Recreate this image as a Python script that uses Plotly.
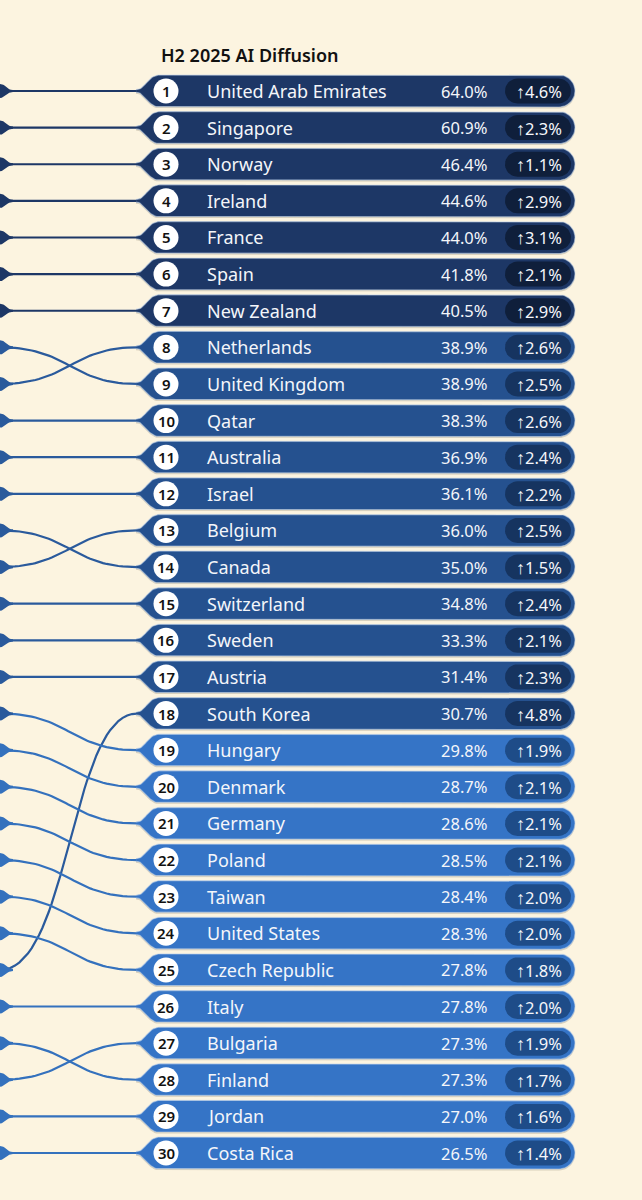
import plotly.graph_objects as go
import numpy as np

# data
countries = ["United Arab Emirates", "Singapore", "Norway", "Ireland", "France", "Spain",
             "New Zealand", "Netherlands", "United Kingdom", "Qatar", "Australia", "Israel",
             "Belgium", "Canada", "Switzerland", "Sweden", "Austria", "South Korea", "Hungary",
             "Denmark", "Germany", "Poland", "Taiwan", "United States", "Czech Republic",
             "Italy", "Bulgaria", "Finland", "Jordan", "Costa Rica"]
share = [64.0, 60.9, 46.4, 44.6, 44.0, 41.8, 40.5, 38.9, 38.9, 38.3, 36.9, 36.1, 36.0, 35.0,
         34.8, 33.3, 31.4, 30.7, 29.8, 28.7, 28.6, 28.5, 28.4, 28.3, 27.8, 27.8, 27.3, 27.3,
         27.0, 26.5]
change = [4.6, 2.3, 1.1, 2.9, 3.1, 2.1, 2.9, 2.6, 2.5, 2.6, 2.4, 2.2, 2.5, 1.5, 2.4, 2.1,
          2.3, 4.8, 1.9, 2.1, 2.1, 2.1, 2.0, 2.0, 1.8, 2.0, 1.9, 1.7, 1.6, 1.4]
prev_rank = [1, 2, 3, 4, 5, 6, 7, 9, 8, 10, 11, 12, 14, 13, 15, 16, 17, 25, 18, 19, 20, 21,
             22, 23, 24, 26, 28, 27, 29, 30]
title = "H2 2025 AI Diffusion"

rank = list(range(1, len(countries) + 1))

BG = "#fcf4e0"
ROW_PX = 36.62
FONT = "Noto Sans"


def tier(r):
    if r <= 7:
        return 0
    if r <= 18:
        return 1
    return 2


bar_col = ["#1d3766", "#25518f", "#3574c6"]
pill_col = ["#0f1f3b", "#163460", "#1e4c88"]
line_col = ["#1d3766", "#2a5a9c", "#3471bd"]


def bez(p0, p1, p2, p3, n=20):
    t = np.linspace(0, 1, n)[:, None]
    p = (1 - t) ** 3 * np.array(p0) + 3 * (1 - t) ** 2 * t * np.array(p1) \
        + 3 * (1 - t) * t ** 2 * np.array(p2) + t ** 3 * np.array(p3)
    return p


def bar_outline(x0, x1, h):
    # flared left tip, straight body, round right end (pixel offsets)
    pts = [bez((x0, -1.3), (x0 + 10, -1.3), (x0 + 11, -h), (x0 + 24, -h))]
    cx = x1 - h
    a = np.linspace(-np.pi / 2, np.pi / 2, 25)
    pts.append(np.c_[cx + h * np.cos(a), h * np.sin(a)])
    pts.append(bez((x0 + 24, h), (x0 + 11, h), (x0 + 10, 1.3), (x0, 1.3)))
    return np.vstack(pts)


def pill(x0, x1, h):
    a = np.linspace(-np.pi / 2, np.pi / 2, 20)
    right = np.c_[x1 - h + h * np.cos(a), h * np.sin(a)]
    left = np.c_[x0 + h - h * np.cos(a), -h * np.sin(a)]
    return np.vstack([right, left])


fig = go.Figure()

# connector lines from previous ranking
for r, pr in zip(rank, prev_rank):
    c = line_col[tier(r)]
    curve = bez((0, pr), (70, pr), (70, r), (137, r), 40)
    fig.add_trace(go.Scatter(x=curve[:, 0], y=curve[:, 1], mode="lines",
                             line=dict(color=c, width=2.2), hoverinfo="skip"))
    tip = np.vstack([bez((0, -7), (6, -7), (6, -1.1), (13, -1.1), 10),
                     bez((13, 1.1), (6, 1.1), (6, 7), (0, 7), 10)])
    fig.add_trace(go.Scatter(x=tip[:, 0], y=pr + tip[:, 1] / ROW_PX, mode="lines",
                             fill="toself", fillcolor=line_col[tier(pr)],
                             line=dict(width=0), hoverinfo="skip"))

# bars and change pills
for r in rank:
    t = tier(r)
    shp = bar_outline(136, 575, 16)
    fig.add_trace(go.Scatter(x=shp[:, 0], y=r + (shp[:, 1] + 1.5) / ROW_PX, mode="lines",
                             fill="toself", fillcolor="rgba(60,50,30,0.18)",
                             line=dict(width=0), hoverinfo="skip"))
    fig.add_trace(go.Scatter(x=shp[:, 0], y=r + shp[:, 1] / ROW_PX, mode="lines",
                             fill="toself", fillcolor=bar_col[t],
                             line=dict(color="rgba(190,210,235,0.55)", width=1.2),
                             hoverinfo="skip"))
    p = pill(505, 571, 12.5)
    fig.add_trace(go.Scatter(x=p[:, 0], y=r + p[:, 1] / ROW_PX, mode="lines",
                             fill="toself", fillcolor=pill_col[t],
                             line=dict(width=0), hoverinfo="skip"))

# rank circles
fig.add_trace(go.Scatter(x=[166] * len(rank), y=rank, mode="markers",
                         marker=dict(size=25, color="white", line=dict(width=0)),
                         hoverinfo="skip"))

for r, name, v, d in zip(rank, countries, share, change):
    fig.add_annotation(x=166, y=r, text=str(r), xanchor="center", yanchor="middle",
                       showarrow=False,
                       font=dict(family=FONT, size=15, color="#111", weight=600))
    fig.add_annotation(x=205, y=r, text=name, xanchor="left", yanchor="middle",
                       showarrow=False, font=dict(family=FONT, size=18, color="#f4f6fa"))
    fig.add_annotation(x=489, y=r, text=f"{v:.1f}%", xanchor="right", yanchor="middle",
                       showarrow=False, font=dict(family=FONT, size=16.5, color="#f4f6fa"))
    fig.add_annotation(x=539, y=r,
                       text=f"<span style='font-size:18px'><b>↑</b></span>{d:.1f}%",
                       xanchor="center", yanchor="middle", showarrow=False,
                       font=dict(family=FONT, size=16.5, color="#f4f6fa"))

fig.add_annotation(x=159, y=1 + (55 - 91) / ROW_PX, text=title, xanchor="left",
                   yanchor="middle", showarrow=False,
                   font=dict(family=FONT, size=18, color="#111", weight=600))

fig.update_layout(
    width=642, height=1200,
    margin=dict(l=0, r=0, t=0, b=0),
    paper_bgcolor=BG, plot_bgcolor=BG,
    showlegend=False,
    xaxis=dict(range=[0, 642], visible=False, fixedrange=True),
    yaxis=dict(range=[30 + (1200 - 1153) / ROW_PX, 1 - 91 / ROW_PX], visible=False,
               fixedrange=True),
)

fig.write_html("out.html", config={"displayModeBar": False},
               post_script="document.body.style.margin='0';"
                           "document.body.style.background='" + BG + "';")
